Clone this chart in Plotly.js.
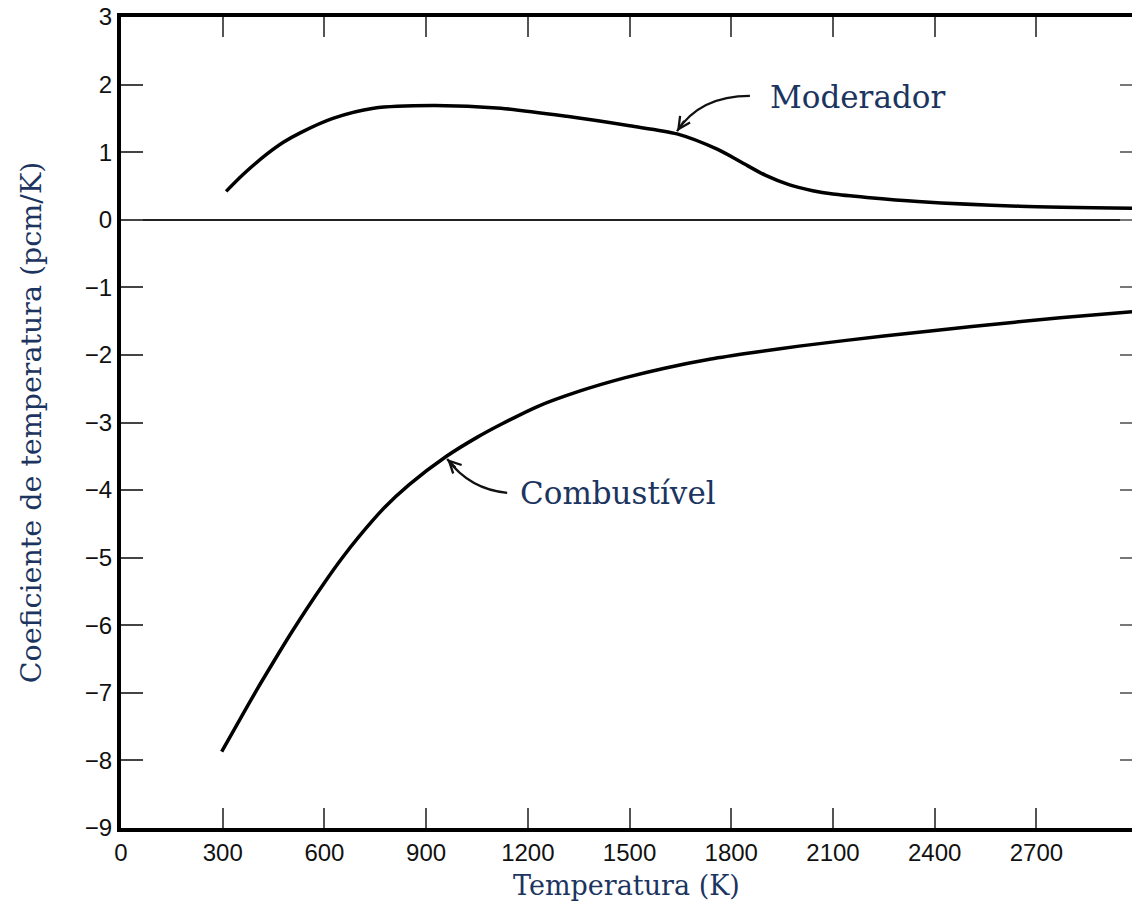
<!DOCTYPE html>
<html>
<head>
<meta charset="utf-8">
<script src="https://cdn.plot.ly/plotly-3.0.1.min.js"></script>
<style>html,body{margin:0;padding:0;background:#fff;}#chart{width:1132px;height:913px;}</style>
</head>
<body>
<div id="chart"></div>
<script>
// Data
const modT = [310, 360, 430, 480, 530, 625, 745, 920, 1120, 1315, 1500, 1640, 1760, 1830, 1900, 1970, 2040, 2100, 2200, 2350, 2650, 2982];
const modV = [0.42, 0.67, 0.97, 1.15, 1.29, 1.50, 1.65, 1.69, 1.65, 1.53, 1.39, 1.27, 1.04, 0.85, 0.66, 0.52, 0.43, 0.38, 0.33, 0.27, 0.20, 0.17];
const fuelT = [297, 350, 400, 450, 500, 550, 600, 650, 700, 775, 850, 960, 1050, 1120, 1230, 1350, 1485, 1600, 1740, 1870, 2000, 2250, 2510, 2770, 2982];
const fuelV = [-7.87, -7.40, -6.96, -6.54, -6.13, -5.74, -5.37, -5.02, -4.70, -4.27, -3.92, -3.50, -3.22, -3.03, -2.76, -2.54, -2.34, -2.20, -2.06, -1.96, -1.87, -1.72, -1.58, -1.45, -1.36];
const xTicks = [0, 300, 600, 900, 1200, 1500, 1800, 2100, 2400, 2700];
const yTicks = [3, 2, 1, 0, -1, -2, -3, -4, -5, -6, -7, -8, -9];
const labelMod = "Moderador";
const labelFuel = "Combustível";
const xTitle = "Temperatura (K)";
const yTitle = "Coeficiente de temperatura (pcm/K)";

const navy = "#1c3560";
const serif = "DejaVu Serif, serif";
const sans = "Liberation Sans, Arial, sans-serif";

const traces = [
  {x: modT, y: modV, mode: "lines", line: {color: "#000", width: 3.5, shape: "spline", smoothing: 0.8}, hoverinfo: "skip", showlegend: false},
  {x: fuelT, y: fuelV, mode: "lines", line: {color: "#000", width: 3.5, shape: "spline", smoothing: 0.8}, hoverinfo: "skip", showlegend: false},
  {x: fuelT, y: fuelV, yaxis: "y2", mode: "lines", line: {color: "rgba(0,0,0,0)", width: 0}, hoverinfo: "skip", showlegend: false}
];

const layout = {
  width: 1132, height: 913,
  margin: {l: 121, r: 0, t: 17, b: 85},
  paper_bgcolor: "#fff", plot_bgcolor: "#fff",
  showlegend: false,
  xaxis: {
    range: [0, 2982], tickvals: xTicks, ticktext: xTicks.map(String),
    ticks: "inside", ticklen: 20, tickwidth: 2, tickcolor: "#555",
    showline: true, linecolor: "#000", linewidth: 4, mirror: "ticks",
    showgrid: false, zeroline: false,
    tickfont: {family: sans, size: 24, color: "#111"},
    title: {text: xTitle, font: {family: serif, size: 27, color: navy}, standoff: 12}
  },
  yaxis: {
    range: [-9, 3], tickvals: yTicks,
    ticks: "inside", ticklen: 22, tickwidth: 2, tickcolor: "#444",
    showline: true, linecolor: "#000", linewidth: 4, mirror: false,
    showgrid: false, zeroline: true, zerolinecolor: "#222", zerolinewidth: 2.5,
    tickfont: {family: sans, size: 24, color: "#111"},
    title: {text: yTitle, font: {family: serif, size: 28.5, color: navy}, standoff: 36}
  },
  yaxis2: {
    overlaying: "y", side: "right", range: [-9, 3], tickvals: yTicks,
    ticks: "inside", ticklen: 12, tickwidth: 2, tickcolor: "#777",
    showticklabels: false, showline: false, showgrid: false, zeroline: false
  },
  shapes: [
    {type: "path", xref: "x", yref: "y", path: "M 1855 1.834 Q 1708 1.834 1640 1.31", line: {color: "#111", width: 2.2}},
    {type: "path", xref: "x", yref: "y", path: "M 1139 -4.04 Q 1029 -3.99 962 -3.54", line: {color: "#111", width: 2.2}}
  ],
  annotations: [
    {x: 1909, y: 1.82, xref: "x", yref: "y", text: labelMod, showarrow: false, xanchor: "left", yanchor: "middle",
     font: {family: serif, size: 31, color: navy}},
    {x: 1171, y: -4.04, xref: "x", yref: "y", text: labelFuel, showarrow: false, xanchor: "left", yanchor: "middle",
     font: {family: serif, size: 31, color: navy}},
    {x: 1640, y: 1.31, xref: "x", yref: "y", text: "", showarrow: true, arrowhead: 5, arrowsize: 1.3, arrowwidth: 1.8,
     arrowcolor: "#111", ax: 8, ay: -12, standoff: 0},
    {x: 962, y: -3.54, xref: "x", yref: "y", text: "", showarrow: true, arrowhead: 5, arrowsize: 1.3, arrowwidth: 1.8,
     arrowcolor: "#111", ax: 10, ay: 10, standoff: 0}
  ]
};

Plotly.newPlot("chart", traces, layout, {displayModeBar: false, staticPlot: true});
</script>
</body>
</html>
